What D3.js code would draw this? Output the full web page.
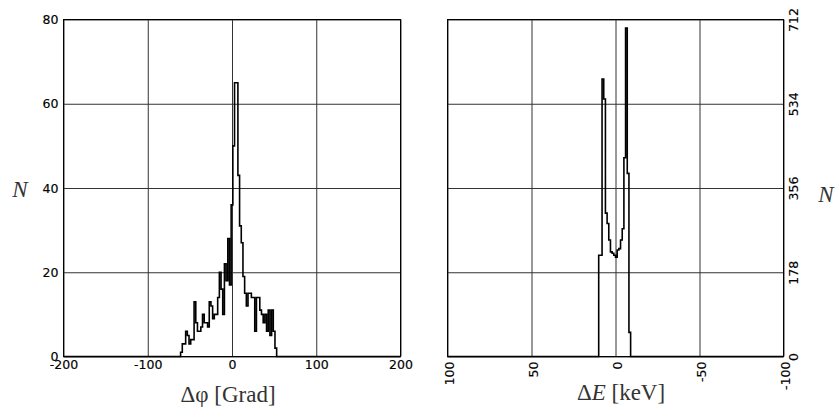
<!DOCTYPE html>
<html>
<head>
<meta charset="utf-8">
<script src="https://cdn.jsdelivr.net/npm/d3@7"></script>
<style>
  body { margin: 0; background: #fff; }
  svg { display: block; }
  .tick text { font-family: "DejaVu Sans", Verdana, sans-serif; font-size: 12.5px; fill: #000; stroke: #000; stroke-width: 0.15px; }
  .title { font-family: "Liberation Serif", "Times New Roman", serif; font-size: 23px; fill: #333; }
</style>
</head>
<body>
<svg id="chart" width="840" height="414"></svg>
<script>
// Δφ histogram: lower bin edges in degrees (2° bins) and counts per bin
const phiBinStarts = [-63, -61, -59, -57, -55, -53, -51, -49, -47, -45, -43, -41, -39, -37, -35, -33,
  -31, -29, -27, -25, -23, -21, -19, -17, -15, -13, -11, -9, -7, -5, -3, -1,
  1, 3, 5, 7, 9, 11, 13, 15, 17, 19, 21, 23, 25, 27, 29, 31,
  33, 35, 37, 39, 41, 43, 45, 47, 49, 51, 53];
const phiCounts = [0, 1, 3, 3, 6, 5, 3, 4, 4, 13, 8, 6, 6, 7, 10, 8,
  8, 7, 13, 12, 9, 10, 10, 14, 20, 16, 10, 22, 18, 28, 17, 36,
  50, 65, 65, 43, 31, 27, 19, 15, 12, 15, 15, 14, 14, 6, 14, 14,
  11, 10, 8, 10, 6, 11, 5, 11, 6, 2, 0];
const phiBinWidth = 2;
const phiTicks = [-200, -100, 0, 100, 200];
const phiCountTicks = [0, 20, 40, 60, 80];

// ΔE histogram: lower bin edges in keV (1 keV bins) and counts per bin
const eBinStarts = [-10, -9, -8, -7, -6, -5, -4, -3, -2, -1, 0, 1, 2, 3, 4, 5, 6, 7, 8, 9];
const eCounts = [0, 51, 387, 694, 420, 270, 246, 228, 225, 210, 214, 218, 221, 246, 281, 303, 544, 586, 214, 214];
const eBinWidth = 1;
const eTicks = [100, 50, 0, -50, -100];
const eCountTicks = [0, 178, 356, 534, 712];

const svg = d3.select("#chart");

// step outline of a histogram, flat at zero across the rest of the axis range
function stepPoints(domain, starts, counts, width) {
  const lo = Math.min(domain[0], domain[1]);
  const hi = Math.max(domain[0], domain[1]);
  const pts = [[lo, 0]];
  starts.forEach((s, i) => pts.push([s, counts[i]]));
  pts.push([starts[starts.length - 1] + width, 0]);
  pts.push([hi, 0]);
  return pts;
}

function panel(opts) {
  const { x, y, xTicks, yTicks, points } = opts;
  const g = svg.append("g");
  const [x0, x1] = x.range();
  const [yb, yt] = y.range();
  const h = yb - yt;
  const w = Math.abs(x1 - x0);

  // grid
  g.append("g")
    .attr("transform", `translate(0,${yb})`)
    .call(d3.axisBottom(x).tickValues(xTicks).tickSize(-h).tickFormat(""))
    .call(s => s.select(".domain").remove())
    .call(s => s.selectAll("line").attr("stroke", "#333").attr("stroke-width", 1));
  g.append("g")
    .attr("transform", `translate(${Math.min(x0, x1)},0)`)
    .call(d3.axisLeft(y).tickValues(yTicks).tickSize(-w).tickFormat(""))
    .call(s => s.select(".domain").remove())
    .call(s => s.selectAll("line").attr("stroke", "#333").attr("stroke-width", 1));

  // frame
  g.append("rect")
    .attr("x", Math.min(x0, x1)).attr("y", yt)
    .attr("width", w).attr("height", h)
    .attr("fill", "none").attr("stroke", "#000").attr("stroke-width", 1);

  // histogram outline
  const line = d3.line()
    .x(d => x(d[0]))
    .y(d => y(d[1]))
    .curve(d3.curveStepAfter);
  g.append("path")
    .datum(points)
    .attr("d", line)
    .attr("fill", "none")
    .attr("stroke", "#000")
    .attr("stroke-width", 1.6)
    .attr("stroke-linejoin", "miter");
  return g;
}

// ---- left panel: Δφ ----
const xPhi = d3.scaleLinear().domain([-200, 200]).range([63.5, 400.5]);
const yPhi = d3.scaleLinear().domain([0, 80]).range([356.5, 19.5]);
const left = panel({
  x: xPhi, y: yPhi, xTicks: phiTicks, yTicks: phiCountTicks,
  points: stepPoints(xPhi.domain(), phiBinStarts, phiCounts, phiBinWidth)
});
left.append("g")
  .attr("transform", `translate(0,${yPhi(0)})`)
  .call(d3.axisBottom(xPhi).tickValues(phiTicks).tickSize(0).tickPadding(4).tickFormat(d => String(d)))
  .call(s => s.select(".domain").remove());
left.append("g")
  .attr("transform", `translate(${xPhi(-200)},0)`)
  .call(d3.axisLeft(yPhi).tickValues(phiCountTicks).tickSize(0).tickPadding(5).tickFormat(d => String(d)))
  .call(s => s.select(".domain").remove());

svg.append("text").attr("class", "title")
  .attr("x", 228).attr("y", 402).attr("text-anchor", "middle")
  .text("Δφ [Grad]");
svg.append("text").attr("class", "title")
  .attr("x", 20).attr("y", 197).attr("text-anchor", "middle")
  .style("font-style", "italic")
  .text("N");

// ---- right panel: ΔE ----
const xE = d3.scaleLinear().domain([100, -100]).range([447.5, 783.5]);
const yE = d3.scaleLinear().domain([0, 712]).range([356.5, 19.5]);
const right = panel({
  x: xE, y: yE, xTicks: eTicks, yTicks: eCountTicks,
  points: stepPoints(xE.domain(), eBinStarts, eCounts, eBinWidth)
});
right.append("g")
  .attr("transform", `translate(0,${yE(0)})`)
  .call(d3.axisBottom(xE).tickValues(eTicks).tickSize(0).tickFormat(d => String(d)))
  .call(s => s.select(".domain").remove())
  .call(s => s.selectAll(".tick text")
    .attr("transform", "rotate(-90)")
    .attr("text-anchor", "end")
    .attr("x", -5).attr("y", 0).attr("dy", "0.5em"));
right.append("g")
  .attr("transform", `translate(${xE(-100)},0)`)
  .call(d3.axisRight(yE).tickValues(eCountTicks).tickSize(0).tickFormat(d => String(d)))
  .call(s => s.select(".domain").remove())
  .call(s => s.selectAll(".tick text")
    .attr("transform", "rotate(-90)")
    .attr("text-anchor", "middle")
    .attr("x", 0).attr("y", 14).attr("dy", 0));

const eTitle = svg.append("text").attr("class", "title")
  .attr("x", 621).attr("y", 400).attr("text-anchor", "middle");
eTitle.append("tspan").text("Δ");
eTitle.append("tspan").style("font-style", "italic").text("E");
eTitle.append("tspan").text(" [keV]");
svg.append("text").attr("class", "title")
  .attr("x", 826).attr("y", 202).attr("text-anchor", "middle")
  .style("font-style", "italic")
  .text("N");
</script>
</body>
</html>
